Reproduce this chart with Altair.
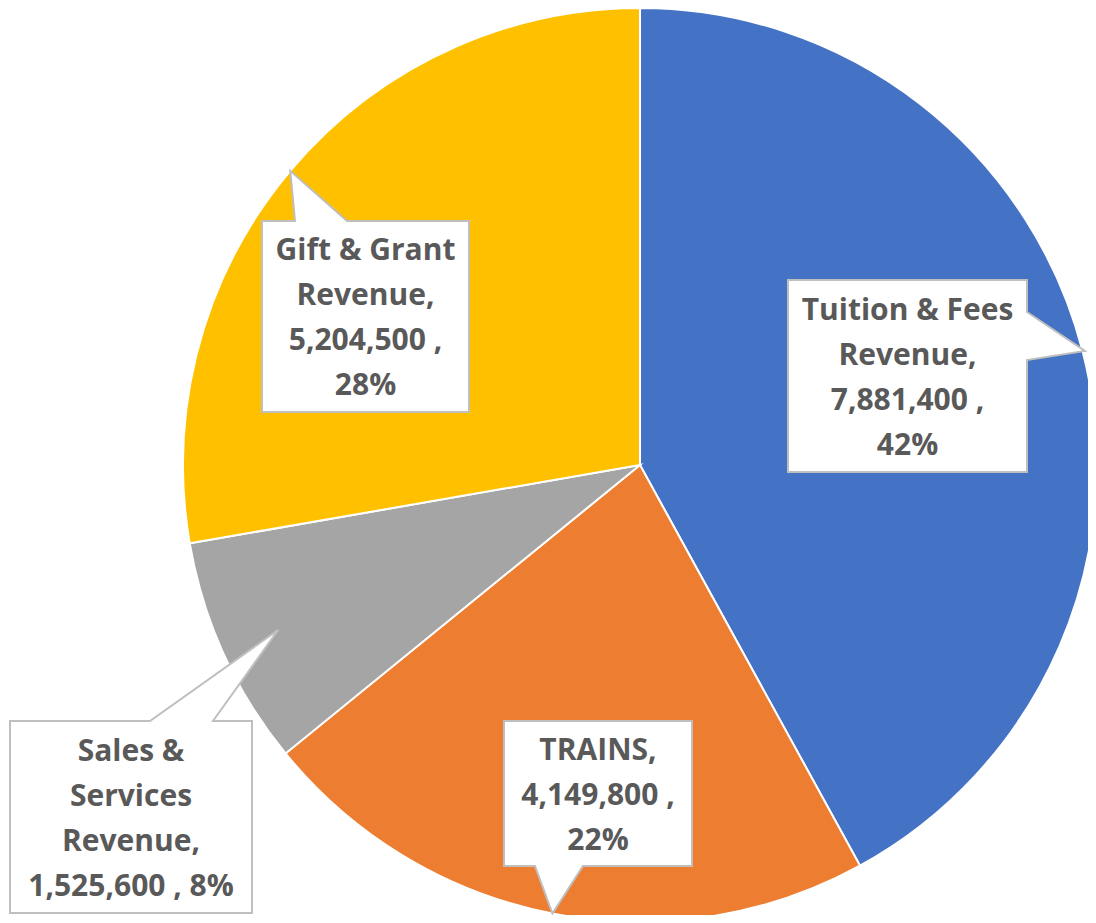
import altair as alt
import numpy as np
import pandas as pd

# ---- data ----
categories = ["Tuition & Fees Revenue", "TRAINS", "Sales & Services Revenue", "Gift & Grant Revenue"]
values = [7881400, 4149800, 1525600, 5204500]
colors = ["#4472C4", "#ED7D31", "#A5A5A5", "#FFC000"]
# how each label wraps (name part)
name_lines = [["Tuition & Fees", "Revenue,"], ["TRAINS,"], ["Sales &", "Services", "Revenue,"], ["Gift & Grant", "Revenue,"]]
value_on_own_line = [True, True, False, True]

# ---- layout (pixels, relative to pie centre; y downward) ----
W, H = 1080, 907
CX, CY = 632, 457
R = 457
LINE_H = 45
# box: x0, x1, y0, y1, pointer side, pointer base start, end, tip radius factor
boxes = [
    (148, 387, -185, 7, "right", -153, -105, 1.005),
    (-136, 52, 256, 401, "bottom", -105, -57, 1.0),
    (-630, -388, 256, 448, "top", -490, -427, 0.87),
    (-378, -171, -244, -53, "top", -345, -293, 1.0),
]

total = sum(values)
frac = np.array(values) / total
cum = np.cumsum(frac) - frac / 2
mid_angle = cum * 2 * np.pi

pie = pd.DataFrame({"cat": categories, "value": values, "idx": range(len(values))})

poly_rows = []
text_rows = []
for i, (x0, x1, y0, y1, side, b0, b1, rf) in enumerate(boxes):
    tx = R * rf * np.sin(mid_angle[i])
    ty = -R * rf * np.cos(mid_angle[i])
    if side == "right":
        pts = [(x0, y0), (x1, y0), (x1, b0), (tx, ty), (x1, b1), (x1, y1), (x0, y1)]
    elif side == "top":
        pts = [(x0, y0), (b0, y0), (tx, ty), (b1, y0), (x1, y0), (x1, y1), (x0, y1)]
    else:  # bottom
        pts = [(x0, y0), (x1, y0), (x1, y1), (b1, y1), (tx, ty), (b0, y1), (x0, y1)]
    for k, (px, py) in enumerate(pts):
        poly_rows.append({"cat": categories[i], "k": k, "x": px, "y": py})
    pct = f"{round(frac[i] * 100):.0f}%"
    vstr = f"{values[i]:,}"
    if value_on_own_line[i]:
        lines = name_lines[i] + [vstr + " ,", pct]
    else:
        lines = name_lines[i] + [vstr + " , " + pct]
    cy = (y0 + y1) / 2 + 2
    first = cy - (len(lines) - 1) / 2 * LINE_H
    for j, ln in enumerate(lines):
        text_rows.append({"cat": categories[i], "x": (x0 + x1) / 2, "y": first + j * LINE_H, "label": ln})

poly = pd.DataFrame(poly_rows)
texts = pd.DataFrame(text_rows)

xs = alt.Scale(domain=[-CX, W - CX], nice=False, zero=False)
ys = alt.Scale(domain=[-CY, H - CY], nice=False, zero=False, reverse=True)

arcs = alt.Chart(pie).mark_arc(radius=R, stroke="white", strokeWidth=2).encode(
    theta=alt.Theta("value:Q", stack=True),
    order=alt.Order("idx:Q"),
    color=alt.Color("cat:N", scale=alt.Scale(domain=categories, range=colors), legend=None),
    x=alt.value(CX),
    y=alt.value(CY),
)

callouts = alt.Chart(poly).mark_line(
    interpolate="linear-closed", fill="white", stroke="#BFBFBF", strokeWidth=2
).encode(
    x=alt.X("x:Q", scale=xs, axis=None),
    y=alt.Y("y:Q", scale=ys, axis=None),
    detail="cat:N",
    order="k:Q",
)

labels = alt.Chart(texts).mark_text(
    font="Open Sans", fontSize=30, fontWeight="bold", color="#595959",
    align="center", baseline="middle",
).encode(
    x=alt.X("x:Q", scale=xs, axis=None),
    y=alt.Y("y:Q", scale=ys, axis=None),
    text="label:N",
)

chart = alt.layer(arcs, callouts, labels).properties(
    width=W, height=H, padding=0,
    autosize=alt.AutoSizeParams(type="none", contains="padding"),
).configure_view(stroke=None)

chart.save("out.html", embed_options={"renderer": "svg", "actions": False})
